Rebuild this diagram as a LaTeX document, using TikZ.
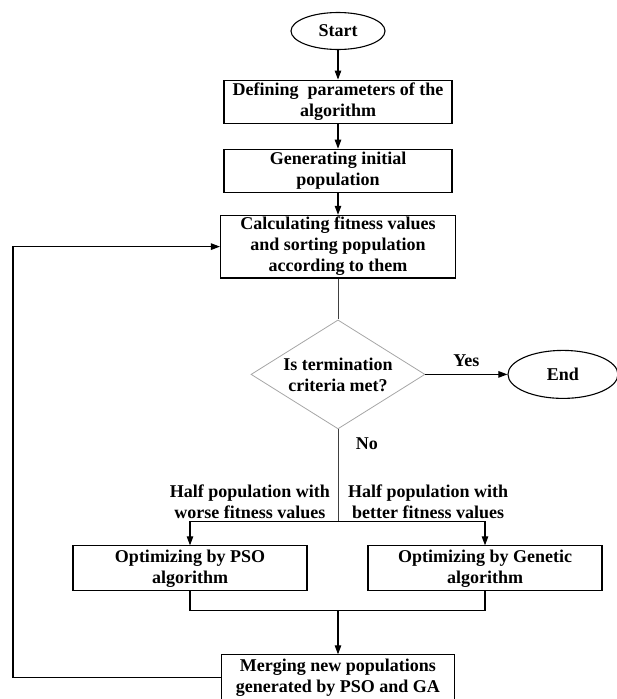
\documentclass[tikz,border=0pt]{standalone}
\usepackage{fontspec}
\setmainfont{Liberation Serif}
\usetikzlibrary{arrows.meta,positioning,shapes.geometric}

\begin{document}
\begin{tikzpicture}[
    x=1pt, y=1pt,
    font=\fontsize{18}{21}\selectfont\bfseries,
    term/.style={ellipse, draw=black, line width=1.1pt, inner sep=0pt},
    box/.style={rectangle, draw=black, line width=1.1pt, align=center, inner sep=2pt, minimum width=228pt, minimum height=43pt},
    decide/.style={diamond, draw=gray!70, line width=0.8pt, aspect=1.6, align=center, inner sep=0pt, minimum width=174pt, minimum height=109pt},
    lbl/.style={align=center, inner sep=2pt},
    link/.style={draw=black!75, line width=0.9pt},
    arrow/.style={-{Triangle[length=9pt, width=6.5pt]}, line width=1.1pt}
]
\useasboundingbox (0,0) rectangle (617,-699);

% main column
\node[term, minimum width=94pt, minimum height=37pt] (start) at (338,-31) {Start};
\node[box, below=29.5pt of start] (param) {Defining~ parameters of the\\algorithm};
\node[box, below=25pt of param] (init) {Generating initial\\population};
\node[box, below=22pt of init, minimum width=235pt, minimum height=60pt] (fit) {Calculating fitness values\\and sorting population\\according to them};
\node[decide, below=41pt of fit] (crit) {Is termination\\criteria met?};
\node[term, right=82pt of crit, minimum width=110pt, minimum height=48pt] (stop) {End};

% split into two halves
\coordinate[below=92pt of crit] (split);
\node[lbl, above left=0pt and 6pt of split] (worse) {Half population with\\worse fitness values};
\node[lbl, above right=0pt and 8pt of split] (better) {Half population with\\better fitness values};
\node[box, below=24pt of split, xshift=-148pt, minimum width=234pt, minimum height=45pt] (pso) {Optimizing by PSO\\algorithm};
\node[box, below=24pt of split, xshift=147pt, minimum width=234pt, minimum height=45pt] (ga) {Optimizing by Genetic\\algorithm};
\node[box, below=133pt of split, minimum width=233pt, minimum height=46pt] (merge) {Merging new populations\\generated by PSO and GA};
\coordinate[above=44pt of merge] (join);

\draw[arrow] (start) -- (param);
\draw[arrow] (param) -- (init);
\draw[arrow] (init) -- (fit);
\draw[link] (fit) -- (crit);
\draw[arrow] (crit) -- node[above=4pt] (yes) {Yes} (stop);
\draw[link] (crit) -- node[pos=0.16, right=14pt] (no) {No} (split);
\draw[arrow] (split) -| (pso.north);
\draw[arrow] (split) -| (ga.north);
\draw[line width=1.1pt] (pso.south) |- (join) -| (ga.south);
\draw[arrow] (join) -- (merge);
\draw[arrow] (merge.west) -- ++(-208,0) |- (fit.west);
\end{tikzpicture}
\end{document}
